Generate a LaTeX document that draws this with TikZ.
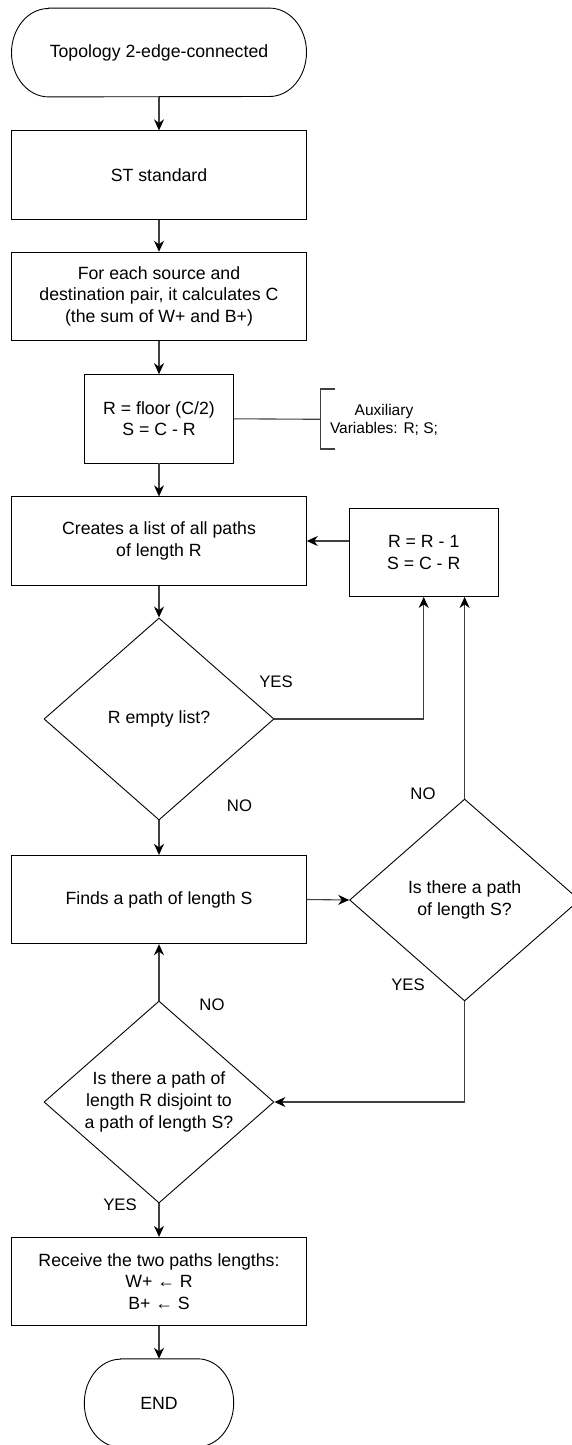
\documentclass[tikz,border=0pt]{standalone}
\usepackage{fontspec}
\setmainfont{Liberation Sans}
\usetikzlibrary{shapes.geometric,arrows.meta}

\begin{document}
\begin{tikzpicture}[x=1pt, y=-1pt, >={Stealth[length=11pt,width=10pt,black]},
    every node/.style={font=\fontsize{17.7}{21.7}\selectfont},
    box/.style={draw, line width=0.9pt, minimum width=294.6pt, minimum height=88.4pt, inner sep=0pt, align=center},
    small box/.style={box, minimum width=149pt},
    term/.style={minimum width=294.6pt, minimum height=88.4pt, inner sep=0pt},
    outline/.style={line width=0.9pt},
    decision/.style={draw, diamond, line width=0.9pt, aspect=1.14, minimum width=230pt, minimum height=202pt, inner sep=0pt, align=center},
    flow/.style={->, line width=1.1pt, draw=black!75},
    lbl/.style={font=\fontsize{16.7}{20}\selectfont, inner sep=0pt}]
    \useasboundingbox (0,0) rectangle (572,1445);

    \node (Topology) at (159,52.5) [term] {Topology 2-edge-connected};
    \draw[outline] ([xshift=37pt]Topology.north west) -- ([xshift=-37pt]Topology.north east)
        arc[start angle=90, end angle=-90, x radius=37pt, y radius=44.2pt]
        -- ([xshift=37pt]Topology.south west)
        arc[start angle=270, end angle=90, x radius=37pt, y radius=44.2pt] -- cycle;
    \node (ST) at (159,175) [box] {ST standard};
    \node (Pairs) at (159,296.4) [box] {For each source and\\destination pair, it calculates C\\ (the sum of W+ and B+)};
    \node (Floor) at (159,418.8) [small box] {R = floor (C/2)\\S = C - R};
    \node (Creates) at (159,541) [box] {Creates a list of all paths\\of length R};
    \node (Decrement) at (423.7,552.3) [small box] {R = R - 1\\S = C - R};
    \node (Empty) at (159,719) [decision] {R empty list?};
    \node (Finds) at (159,899.5) [box] {Finds a path of length S};
    \node (ExistsS) at (464.6,900) [decision] {Is there a path\\of length S?};
    \node (Disjoint) at (159,1102) [decision] {Is there a path of\\length R disjoint to\\a path of length S?};
    \node (Receive) at (159,1281.5) [box] {Receive the two paths lengths:\\W+ ← R\\B+ ← S};
    \node (END) at (159,1403) [term, minimum width=149pt, minimum height=88pt] {END};
    \draw[outline] ([xshift=36pt]END.north west) -- ([xshift=-36pt]END.north east)
        arc[start angle=90, end angle=-90, x radius=36pt, y radius=44pt]
        -- ([xshift=36pt]END.south west)
        arc[start angle=270, end angle=90, x radius=36pt, y radius=44pt] -- cycle;

    \coordinate (Brace) at (320.7,419.3);
    \node (Aux) at (384,420) [font=\fontsize{15.5}{18.5}\selectfont, align=center] {Auxiliary\\Variables: R; S;};
    \draw[line width=1.1pt, black!75] (Floor.east) -- (Brace);
    \draw[line width=1.1pt, black!75] (Brace) ++(14.3,-30.3) -- ++(-14.3,0) -- ++(0,60) -- ++(14.3,0);

    \draw[flow] (Topology) -- (ST);
    \draw[flow] (ST) -- (Pairs);
    \draw[flow] (Pairs) -- (Floor);
    \draw[flow] (Floor) -- (Creates);
    \draw[flow] (Creates) -- (Empty);
    \draw[flow] (Empty.east) -| (Decrement.south);
    \draw[flow] (Decrement.west |- Creates.east) -- (Creates.east);
    \draw[flow] (Empty.south) -- (Finds.north);
    \draw[flow] (Finds.east) -- (ExistsS.west);
    \draw[flow] (ExistsS.north) -- (ExistsS.north |- Decrement.south);
    \draw[flow] (ExistsS.south) |- (Disjoint.east);
    \draw[flow] (Disjoint.north) -- (Finds.south);
    \draw[flow] (Disjoint.south) -- (Receive.north);
    \draw[flow] (Receive.south) -- (END.north);

    \node (YesEmpty) at (276,682) [lbl] {YES};
    \node (NoEmpty) at (239.5,806) [lbl] {NO};
    \node (NoExists) at (423,793.5) [lbl] {NO};
    \node (YesExists) at (408,985) [lbl] {YES};
    \node (NoDisjoint) at (212,1005) [lbl] {NO};
    \node (YesDisjoint) at (120,1205) [lbl] {YES};
\end{tikzpicture}
\end{document}
